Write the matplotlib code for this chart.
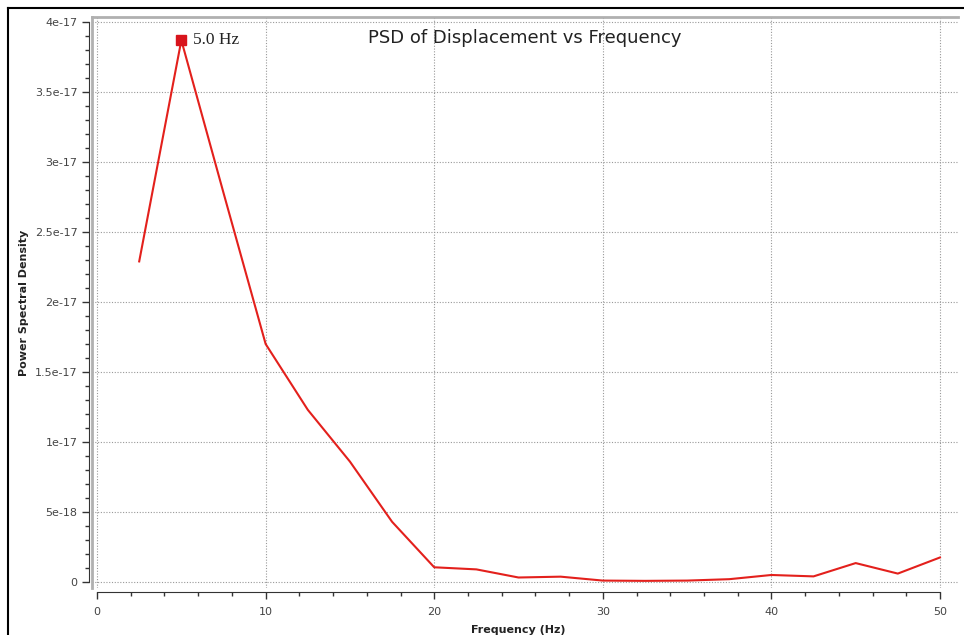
import matplotlib.pyplot as plt
from matplotlib.lines import Line2D
from matplotlib.ticker import FuncFormatter, MultipleLocator

# Frequency bins (Hz) and PSD values
freq = [2.5, 5.0, 7.5, 10.0, 12.5, 15.0, 17.5, 20.0, 22.5, 25.0,
        27.5, 30.0, 32.5, 35.0, 37.5, 40.0, 42.5, 45.0, 47.5, 50.0]
psd = [2.29e-17, 3.87e-17, 2.78e-17, 1.70e-17, 1.23e-17, 0.86e-17,
       0.43e-17, 0.105e-17, 0.09e-17, 0.032e-17, 0.038e-17, 0.01e-17,
       0.008e-17, 0.01e-17, 0.02e-17, 0.05e-17, 0.04e-17, 0.135e-17,
       0.06e-17, 0.175e-17]

peak_freq = 5.0
peak_psd = 3.87e-17
peak_label = "5.0 Hz"

W, H = 964, 635
fig = plt.figure(figsize=(W / 100, H / 100), dpi=100)

# axes canvas in pixel coords: left 92, right 958, top 17, bottom 588
ax = fig.add_axes([92 / W, 1 - 588 / H, (958 - 92) / W, (588 - 17) / H])
ax.set_xlim(-0.3, 51.07)
ax.set_ylim(-0.043e-17, 4.036e-17)

ax.plot(freq, psd, color='#e3201c', linewidth=1.5)
ax.plot([peak_freq], [peak_psd], marker='s', markersize=6.5,
        color='#d8141c', linestyle='none')
ax.text(peak_freq + 0.7, peak_psd, peak_label, family='Liberation Serif',
        fontsize=12.5, color='#222222', va='center', ha='left')

ax.set_title("PSD of Displacement vs Frequency", fontsize=13,
             color='#222222', y=0.965, va='top', x=0.5)

# ticks
ax.xaxis.set_major_locator(MultipleLocator(10))
ax.xaxis.set_minor_locator(MultipleLocator(2))
ax.yaxis.set_major_locator(MultipleLocator(0.5e-17))
ax.yaxis.set_minor_locator(MultipleLocator(0.1e-17))


def yfmt(v, pos):
    if abs(v) < 1e-30:
        return "0"
    return "%g" % v


ax.yaxis.set_major_formatter(FuncFormatter(yfmt))
ax.tick_params(axis='both', which='major', labelsize=8, labelcolor='#444444',
               color='#333333', length=5, width=1)
ax.tick_params(axis='both', which='minor', color='#333333', length=3, width=1)
ax.tick_params(axis='x', pad=6)

ax.grid(True, which='major', linestyle=(0, (1, 1.5)), color='#999999', linewidth=0.8)

for side in ['top', 'right']:
    ax.spines[side].set_visible(False)
ax.spines['left'].set_position(('outward', 2))
ax.spines['bottom'].set_position(('outward', 3))
ax.spines['left'].set_color('#333333')
ax.spines['bottom'].set_color('#333333')
ax.spines['left'].set_bounds(0, 4e-17)
ax.spines['bottom'].set_bounds(0, 50)

ax.set_xlabel("Frequency (Hz)", fontsize=8, fontweight='bold', color='#222222',
              labelpad=6)
ax.set_ylabel("Power Spectral Density", fontsize=8, fontweight='bold',
              color='#222222', labelpad=4)
ax.xaxis.set_label_coords((518 - 92) / (958 - 92), -(625 - 588) / (588 - 17))

# canvas frame (light gray) and outer black border
fig.add_artist(Line2D([92 / W, 958 / W], [1 - 17 / H, 1 - 17 / H],
                      color='#b0b0b0', linewidth=2))
fig.add_artist(Line2D([92 / W, 92 / W], [1 - 17 / H, 1 - 588 / H],
                      color='#b0b0b0', linewidth=2))
fig.add_artist(Line2D([8 / W, 1.0], [1 - 8 / H, 1 - 8 / H],
                      color='black', linewidth=1.5))
fig.add_artist(Line2D([8 / W, 8 / W], [1 - 8 / H, 0.0],
                      color='black', linewidth=1.5))

fig.savefig('out.png', dpi=100, facecolor='white')
